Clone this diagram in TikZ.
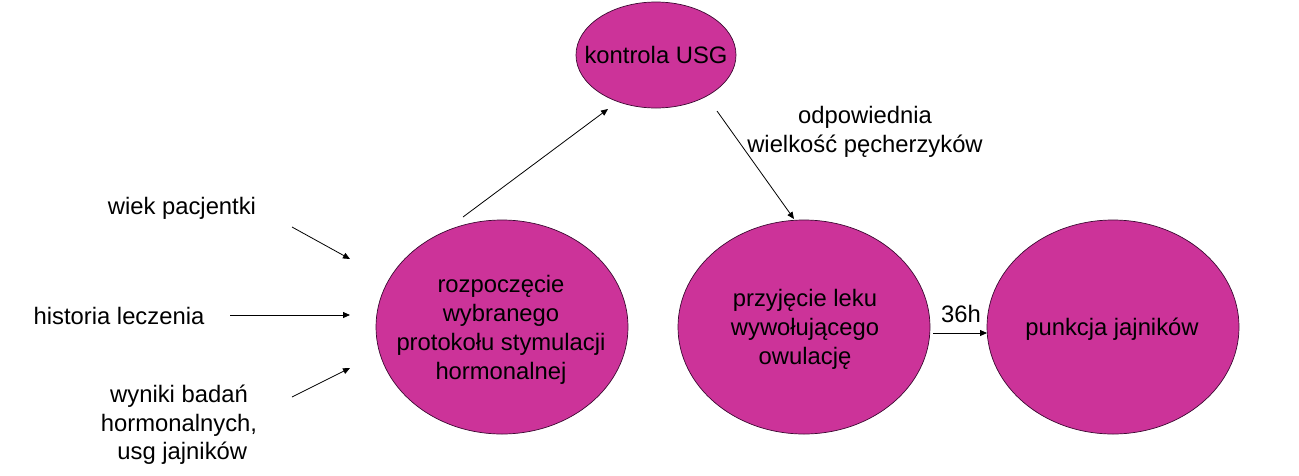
\documentclass[tikz,border=0pt]{standalone}
\usepackage{fontspec}
\setmainfont{Liberation Sans}
\usetikzlibrary{shapes.geometric,arrows.meta}
\definecolor{blobfill}{RGB}{204,51,153}
\definecolor{blobline}{RGB}{60,10,50}
\tikzset{
  blob/.style={ellipse, fill=blobfill, draw=blobline, line width=0.7pt, inner sep=0pt,
               minimum width=252pt, minimum height=214pt},
  smallblob/.style={blob, minimum width=160pt, minimum height=106pt},
  txt/.style={font=\fontsize{23.8}{29}\selectfont, align=center, inner sep=0pt, text=black},
  arr/.style={line width=0.8pt, -{Triangle[length=7pt,width=6pt]}}
}
\begin{document}
\begin{tikzpicture}[x=1pt,y=-1pt]
\useasboundingbox (0,0) rectangle (1299,475);
% ellipses
\node[smallblob] (usg) at (656,55) {};
\node[blob] (roz) at (502,327) {};
\node[blob] (prz) at (804,327) {};
\node[blob] (pun) at (1113,327) {};
% texts inside
\node[txt] (tusg) at (usg) {kontrola USG};
\node[txt] (troz) at (501,330) {rozpoczęcie\\wybranego\\protokołu stymulacji\\hormonalnej};
\node[txt] (tprz) at (805,329) {przyjęcie leku\\wywołującego\\owulację};
\node[txt] (tpun) at (1112,329) {punkcja jajników};
% outside texts
\node[txt] (wiek) at (182,208) {wiek pacjentki};
\node[txt] (hist) at (119,316) {historia leczenia};
\node[txt, font=\fontsize{23.8}{28.5}\selectfont] (wyn) at (179,425) {wyniki badań\\hormonalnych,\\\ usg jajników};
\node[txt] (odp) at (865,132) {odpowiednia\\wielkość pęcherzyków};
\node[txt] (h36) at (961,314) {36h};
% connector end points
\coordinate (a1) at (292,227); \coordinate (b1) at (350,259);
\coordinate (a2) at (230,315); \coordinate (b2) at (350,315);
\coordinate (a3) at (292,397); \coordinate (b3) at (350,368);
\coordinate (a4) at (463,217); \coordinate (b4) at (608,109);
\coordinate (a5) at (717,111); \coordinate (b5) at (794,219);
\coordinate (a6) at (933,333); \coordinate (b6) at (987,333);
% connectors
\draw[arr] (a1) -- (b1);
\draw[arr] (a2) -- (b2);
\draw[arr] (a3) -- (b3);
\draw[arr] (a4) -- (b4);
\draw[arr] (a5) -- (b5);
\draw[arr] (a6) -- (b6);
\end{tikzpicture}
\end{document}
